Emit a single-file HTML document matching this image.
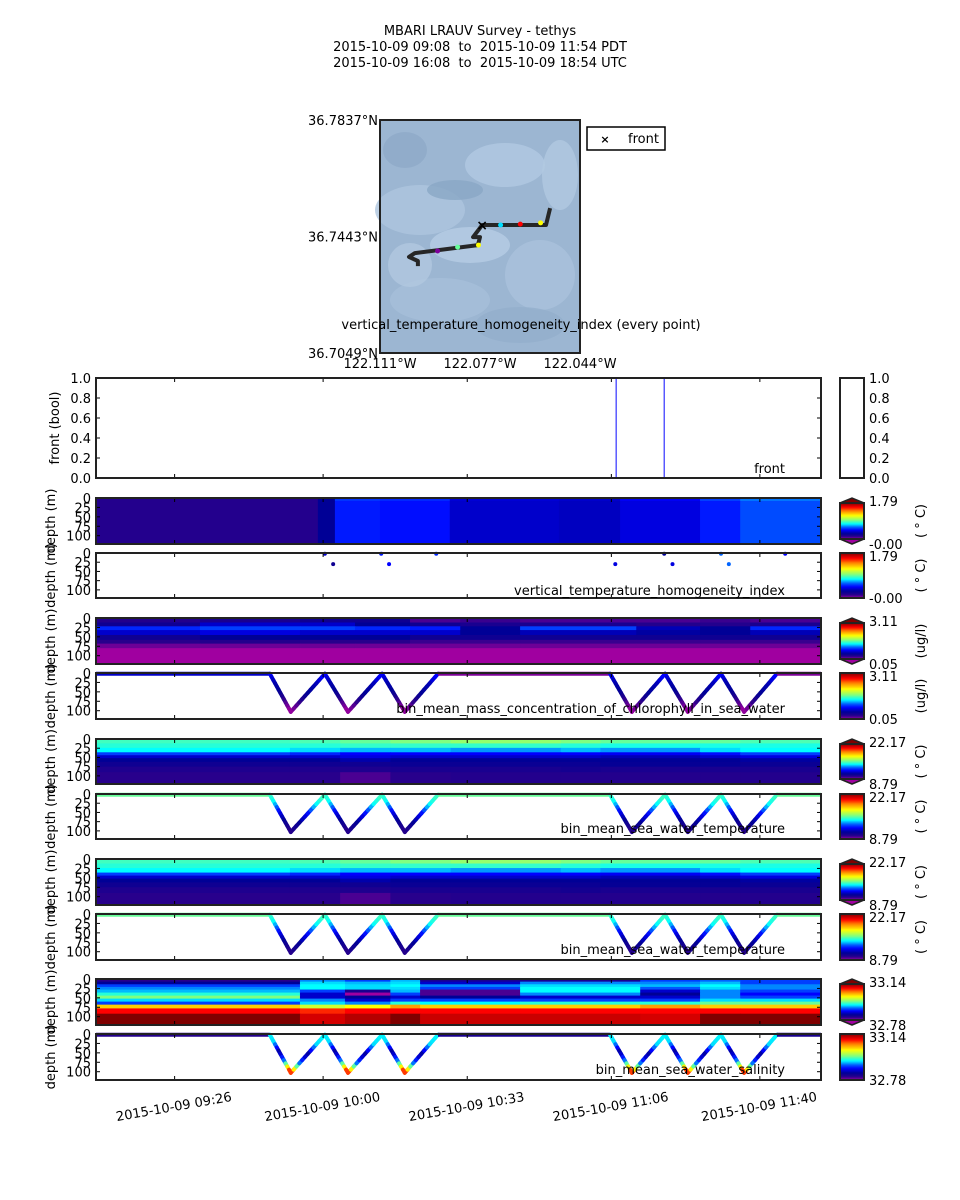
<!DOCTYPE html>
<html><head><meta charset="utf-8"><style>
body{margin:0;background:#fff}
svg{display:block;font-family:"DejaVu Sans","Liberation Sans",sans-serif}
text{white-space:pre}
</style></head><body>
<svg id="fig" width="960" height="1200" viewBox="0 0 960 1200" xmlns="http://www.w3.org/2000/svg">
<rect width="960" height="1200" fill="#fff"/>
<g font-size="13" text-anchor="middle" fill="#000">
<text x="480" y="35" xml:space="preserve">MBARI LRAUV Survey - tethys</text>
<text x="480" y="51" xml:space="preserve">2015-10-09 09:08  to  2015-10-09 11:54 PDT</text>
<text x="480" y="67" xml:space="preserve">2015-10-09 16:08  to  2015-10-09 18:54 UTC</text>
</g>
<g id="map"></g>
<g id="plots"></g>
</svg>
<script>
// ---------- data ----------
const mapLon=[-122.054,-122.0554,-122.0768,-122.0775,-122.0798,-122.0775,-122.0782,-122.0993,-122.1013,-122.0983,-122.0983];
const mapLat=[36.7539,36.7482,36.7482,36.7472,36.7441,36.7441,36.7414,36.7387,36.7374,36.7360,36.7343];
const dotLon=[-122.0706,-122.0640,-122.0572,-122.0780,-122.0850,-122.0917];
const dotLat=[36.7482,36.7485,36.7489,36.7414,36.7407,36.7394];
const dotFrac=[0.4,0.88,0.65,0.65,0.5,0.02];
const frontLon=[-122.0768], frontLat=[36.7482];
const latTicks=["36.7837°N","36.7443°N","36.7049°N"], latVals=[36.7837,36.7443,36.7049];
const lonTicks=["122.111°W","122.077°W","122.044°W"], lonVals=[-122.111,-122.0775,-122.044];

const timeTicks=[18,52,85,118,152];
const timeLabels=["2015-10-09 09:26","2015-10-09 10:00","2015-10-09 10:33","2015-10-09 11:06","2015-10-09 11:40"];
const frontTimes=[119.1,130.1];
const depthTicks=[0,25,50,75,100];

// vthi heatmap
const vthiTimeEdges=[0,50.8,54.7,65,81,106,120,138.3,147.5,166];
const vthiDepthEdges=[0,8,122];
const vthiFrac=[[0.08,0.15,0.29,0.28,0.21,0.2,0.24,0.3,0.34],[0.08,0.15,0.27,0.26,0.2,0.19,0.22,0.27,0.31]];
// vthi points
const vthiPtTime=[52.4,54.3,65.3,67.1,77.9,118.9,130.1,132,143.1,144.9,157.8];
const vthiPtDepth=[2,30,2,30,2,30,2,30,2,30,2];
const vthiPtFrac=[0.2,0.12,0.27,0.25,0.28,0.22,0.15,0.22,0.33,0.33,0.25];

// chl heatmap
const chlTimeEdges=[0,23.8,46.7,59.3,71.9,83.4,97.1,123.7,138.3,149.8,166];
const chlDepthEdges=[0,12,22,32,45,58,68,80,122];
const chlFrac=[
[0.08,0.1,0.12,0.12,0.05,0.06,0.05,0.05,0.06,0.05],
[0.12,0.2,0.2,0.15,0.12,0.1,0.1,0.08,0.08,0.1],
[0.28,0.3,0.3,0.28,0.27,0.15,0.3,0.18,0.15,0.28],
[0.2,0.22,0.2,0.2,0.2,0.15,0.18,0.16,0.15,0.18],
[0.12,0.15,0.15,0.15,0.12,0.12,0.12,0.12,0.12,0.12],
[0.07,0.08,0.07,0.07,0.06,0.06,0.06,0.06,0.06,0.06],
[0.03,0.03,0.03,0.03,0.03,0.03,0.03,0.03,0.03,0.03],
[0,0,0,0,0,0,0,0,0,0]];

// temperature heatmap
const tempTimeEdges=[0,44.4,55.9,67.4,81.2,106.4,115.5,138.3,147.5,166];
const tempDepthEdges=[0,12,24,36,44,52,62,75,90,122];
const tempFrac=[
[0.47,0.48,0.5,0.52,0.54,0.52,0.5,0.5,0.48],
[0.45,0.45,0.46,0.46,0.46,0.45,0.44,0.44,0.44],
[0.42,0.4,0.38,0.38,0.36,0.38,0.36,0.4,0.42],
[0.3,0.28,0.25,0.25,0.25,0.25,0.24,0.26,0.3],
[0.2,0.2,0.22,0.2,0.2,0.2,0.18,0.2,0.22],
[0.15,0.15,0.17,0.15,0.15,0.15,0.15,0.15,0.16],
[0.12,0.12,0.12,0.13,0.13,0.13,0.14,0.14,0.13],
[0.09,0.09,0.09,0.1,0.1,0.11,0.1,0.1,0.1],
[0.07,0.07,0.05,0.07,0.08,0.08,0.08,0.08,0.08]];

// salinity heatmap
const salTimeEdges=[0,46.7,57,67.4,74.2,97.1,124.6,138.3,147.5,166];
const salDepthEdges=[0,7,14,21,28,36,44,52,60,68,78,92,122];
const salFrac=[
[0.07,0.35,0.3,0.38,0.1,0.1,0.3,0.33,0.3],
[0.15,0.4,0.38,0.4,0.2,0.35,0.35,0.38,0.3],
[0.3,0.42,0.4,0.42,0.35,0.4,0.38,0.42,0.35],
[0.35,0.42,0.4,0.4,0.3,0.42,0.32,0.4,0.35],
[0.38,0.3,0.1,0.38,0.05,0.42,0.2,0.35,0.3],
[0.45,0.2,0.0,0.3,0.05,0.35,0.15,0.35,0.25],
[0.52,0.2,0.15,0.2,0.15,0.2,0.2,0.35,0.3],
[0.4,0.35,0.2,0.3,0.3,0.3,0.3,0.4,0.4],
[0.3,0.4,0.35,0.45,0.42,0.45,0.45,0.5,0.5],
[0.7,0.6,0.65,0.75,0.7,0.7,0.75,0.7,0.7],
[0.88,0.85,0.88,0.88,0.88,0.88,0.88,0.88,0.88],
[1,0.92,0.95,1,0.93,0.93,0.92,1,1]];

// vehicle track (yo-yo profiles)
const trackTime=[0,39.8,44.6,52.4,57.7,65.5,70.7,78.3,117.7,122.7,130.3,135.5,143.1,148.4,155.9,166];
const trackDepth=[2,2,103,2,103,2,103,2,2,103,2,103,2,103,2,2];
const profDepths=[0,25,50,75,103];
const chlProfFrac=[0.27,0.18,0.15,0.06,0.0];
const chlSurfFrac=[0.2,0.02,0.02];
const tempProfFrac=[0.48,0.42,0.25,0.14,0.07];
const tempSurfFrac=[0.5,0.5,0.5];
const salProfFrac=[0.42,0.4,0.15,0.35,0.92];
const salSurfFrac=[0.08,0.1,0.1];

// ---------- helpers ----------
const NS="http://www.w3.org/2000/svg";
function mk(tag,attrs,parent){const e=document.createElementNS(NS,tag);for(const k in attrs)e.setAttribute(k,attrs[k]);parent.appendChild(e);return e;}
const stops=[[0,[160,0,160]],[0.07,[40,0,140]],[0.15,[0,0,150]],[0.25,[0,0,255]],[0.33,[0,100,255]],[0.42,[0,255,255]],[0.52,[128,255,128]],[0.65,[255,255,0]],[0.78,[255,128,0]],[0.88,[255,0,0]],[1,[128,0,0]]];
function cmap(f){f=Math.max(0,Math.min(1,f));for(let i=1;i<stops.length;i++){if(f<=stops[i][0]){const a=stops[i-1],b=stops[i];const t=(f-a[0])/(b[0]-a[0]);const c=a[1].map((v,j)=>Math.round(v+(b[1][j]-v)*t));return `rgb(${c[0]},${c[1]},${c[2]})`;}}return 'rgb(128,0,0)';}
const X0=96,X1=821;
const xS=t=>X0+t/166*(X1-X0);
const DMAX=122;
const plots=document.getElementById('plots');
const mapG=document.getElementById('map');

// ---------- map ----------
const MX0=380,MX1=580,MY0=120,MY1=353;
const mx=lon=>MX0+(lon-(-122.111))/(0.067)*(MX1-MX0);
const my=lat=>MY0+(36.7837-lat)/(0.0788)*(MY1-MY0);
mk('rect',{x:MX0,y:MY0,width:200,height:233,fill:'#9cb6d2'},mapG);
const blobs=[[420,210,45,25,'#aec6df'],[505,165,40,22,'#b2c9e2'],[540,275,35,35,'#aac2dc'],[440,300,50,22,'#a6bfda'],[470,245,40,18,'#b6cde5'],[405,150,22,18,'#8eaac8'],[455,190,28,10,'#8aa7c5'],[560,175,18,35,'#b2c9e1'],[520,325,45,18,'#93afcc'],[410,265,22,22,'#b2c8e0']];
blobs.forEach(b=>{const e=mk('ellipse',{cx:b[0],cy:b[1],rx:b[2],ry:b[3],fill:b[4],opacity:0.8},mapG);});
mk('rect',{x:MX0,y:MY0,width:200,height:233,fill:'none',stroke:'#222',"stroke-width":2},mapG);
const tp=mapLon.map((l,i)=>mx(l).toFixed(1)+','+my(mapLat[i]).toFixed(1)).join(' ');
const trk=mk('polyline',{points:tp,fill:'none',stroke:'#262626',"stroke-width":4,"stroke-linejoin":"round"},mapG);


dotLon.forEach((l,i)=>{const d=mk('circle',{cx:mx(l),cy:my(dotLat[i]),r:2.5,fill:cmap(dotFrac[i])},mapG);});
frontLon.forEach((l,i)=>{const t=mk('text',{x:mx(l),y:my(frontLat[i])+5,"text-anchor":"middle","font-size":14,"font-weight":"bold"},mapG);t.textContent='×';});
latVals.forEach((v,i)=>{const t=mk('text',{x:378,y:my(v)+5,"text-anchor":"end","font-size":13},mapG);t.textContent=latTicks[i];});
lonVals.forEach((v,i)=>{const t=mk('text',{x:mx(v),y:368,"text-anchor":"middle","font-size":13},mapG);t.textContent=lonTicks[i];});
{const t=mk('text',{x:521,y:329,"text-anchor":"middle","font-size":13},mapG);t.textContent='vertical_temperature_homogeneity_index (every point)';}
{const lg=mk('g',{},mapG);
mk('rect',{x:587,y:127,width:78,height:23,fill:'#fff',stroke:'#000',"stroke-width":1.5},lg);
const a=mk('text',{x:605,y:143,"text-anchor":"middle","font-size":11,"font-weight":"bold"},lg);a.textContent='×';
const b=mk('text',{x:628,y:143,"font-size":13},lg);b.textContent='front';}

// ---------- panel utilities ----------
function depthAxis(g,top,bot){
  const yS=d=>top+d/DMAX*(bot-top);
  depthTicks.forEach(d=>{
    const y=yS(d);
    mk('line',{x1:X0,x2:X0+4,y1:y,y2:y,stroke:'#000'},g);
    mk('line',{x1:X1-4,x2:X1,y1:y,y2:y,stroke:'#000'},g);
    const t=mk('text',{x:91,y:y+5,"text-anchor":"end","font-size":13},g);t.textContent=d;
    
    
  });
  timeTicks.forEach(tt=>{const x=xS(tt);mk('line',{x1:x,x2:x,y1:bot,y2:bot-4,stroke:'#000'},g);mk('line',{x1:x,x2:x,y1:top,y2:top+4,stroke:'#000'},g);});
  const yl=mk('text',{x:0,y:0,transform:`translate(55,${(top+bot)/2}) rotate(-90)`,"text-anchor":"middle","font-size":13},g);yl.textContent='depth (m)';
  
  
  return yS;
}
function frame(g,top,bot){mk('rect',{x:X0,y:top,width:X1-X0,height:bot-top,fill:'none',stroke:'#222',"stroke-width":2},g);}
function colorbar(top,bot,ext,maxL,minL,unit){
  const g=mk('g',{},plots);
  
  
  const x=840,w=24,n=40;
  const t0=ext?top+5:top, b0=ext?bot-5:bot;
  for(let i=0;i<n;i++){const y=t0+(b0-t0)*i/n;mk('rect',{x:x,y:y,width:w,height:(b0-t0)/n+0.6,fill:cmap(1-(i+0.5)/n)},g);}
  if(ext){
    mk('polygon',{points:`${x},${t0} ${x+w/2},${top} ${x+w},${t0}`,fill:cmap(1),stroke:'#222',"stroke-width":1.5},g);
    mk('polygon',{points:`${x},${b0} ${x+w/2},${bot} ${x+w},${b0}`,fill:cmap(0),stroke:'#222',"stroke-width":1.5},g);
  }
  mk('rect',{x:x,y:t0,width:w,height:b0-t0,fill:'none',stroke:'#222',"stroke-width":2},g);
  const a=mk('text',{x:869,y:top+8,"font-size":13},g);a.textContent=maxL;
  const b=mk('text',{x:869,y:bot+5,"font-size":13},g);b.textContent=minL;
  const u=mk('text',{x:0,y:0,transform:`translate(925,${(top+bot)/2}) rotate(-90)`,"text-anchor":"middle","font-size":13},g);u.textContent=unit;
}
function heatmap(name,top,bot,tE,dE,frac){
  const g=mk('g',{},plots);
  
  
  const yS=d=>top+Math.min(d,DMAX)/DMAX*(bot-top);
  frac.forEach((row,r)=>row.forEach((f,c)=>{
    const x1=xS(tE[c]),x2=xS(tE[c+1]),y1=yS(dE[r]),y2=yS(dE[r+1]);
    const e=mk('rect',{x:x1,y:y1,width:x2-x1+0.5,height:y2-y1+0.5,fill:cmap(f)},g);
    
    
  }));
  depthAxis(g,top,bot);frame(g,top,bot);
}
function interpDepth(d,vals){
  for(let i=1;i<profDepths.length;i++){if(d<=profDepths[i]){const t=(d-profDepths[i-1])/(profDepths[i]-profDepths[i-1]);return vals[i-1]+(vals[i]-vals[i-1])*t;}}
  return vals[vals.length-1];
}
function profile(name,top,bot,vals,surf,label){
  const g=mk('g',{},plots);
  
  
  const yS=d=>top+d/DMAX*(bot-top);
  let surfIdx=0;
  for(let i=0;i<trackTime.length-1;i++){
    const t0=trackTime[i],t1=trackTime[i+1],d0=trackDepth[i],d1=trackDepth[i+1];
    if(d0===d1){
      const s=mk('line',{x1:xS(t0),x2:xS(t1),y1:yS(d0),y2:yS(d1),stroke:cmap(surf[Math.min(surfIdx,2)]),"stroke-width":4},g);
      
      
      surfIdx++;continue;
    }
    const N=12;
    for(let k=0;k<N;k++){
      const a=k/N,b=(k+1)/N;
      const dm=d0+(d1-d0)*(a+b)/2;
      const s=mk('line',{x1:xS(t0+(t1-t0)*a),x2:xS(t0+(t1-t0)*b),y1:yS(d0+(d1-d0)*a),y2:yS(d0+(d1-d0)*b),stroke:cmap(interpDepth(dm,vals)),"stroke-width":4,"stroke-linecap":"round"},g);
      
      
    }
  }
  depthAxis(g,top,bot);frame(g,top,bot);
  const t=mk('text',{x:785,y:bot-6,"text-anchor":"end","font-size":13},g);t.textContent=label;
  
  
}

// ---------- front panel ----------
{
  const g=mk('g',{},plots);
  
  
  const top=378,bot=478;
  const yS=v=>bot-v*(bot-top);
  [0,0.2,0.4,0.6,0.8,1.0].forEach(v=>{
    const y=yS(v);
    mk('line',{x1:X0,x2:X0+4,y1:y,y2:y,stroke:'#000'},g);mk('line',{x1:X1-4,x2:X1,y1:y,y2:y,stroke:'#000'},g);
    const t=mk('text',{x:91,y:y+5,"text-anchor":"end","font-size":13},g);t.textContent=v.toFixed(1);
    const c=mk('text',{x:869,y:y+5,"font-size":13},g);c.textContent=v.toFixed(1);
    mk('line',{x1:860,x2:864,y1:y,y2:y,stroke:'#000'},g);
  });
  timeTicks.forEach(tt=>{const x=xS(tt);mk('line',{x1:x,x2:x,y1:bot,y2:bot-4,stroke:'#000'},g);mk('line',{x1:x,x2:x,y1:top,y2:top+4,stroke:'#000'},g);});
  frontTimes.forEach(ft=>{const l=mk('line',{x1:xS(ft),x2:xS(ft),y1:yS(0),y2:yS(1),stroke:'#3030ff',"stroke-width":1.2},g);});
  mk('line',{x1:X0,x2:X1,y1:yS(0),y2:yS(0),stroke:'#3030ff',"stroke-width":1.2},g);
  frame(g,top,bot);
  const yl=mk('text',{x:0,y:0,transform:`translate(59,${(top+bot)/2}) rotate(-90)`,"text-anchor":"middle","font-size":13},g);yl.textContent='front (bool)';
  
  
  const lb=mk('text',{x:785,y:473,"text-anchor":"end","font-size":13},g);lb.textContent='front';
  mk('rect',{x:840,y:top,width:24,height:bot-top,fill:'#fff',stroke:'#222',"stroke-width":2},g);
}

// ---------- vthi ----------
heatmap('vthi-heatmap',498,544,vthiTimeEdges,vthiDepthEdges,vthiFrac);
colorbar(498,544,true,'1.79','-0.00','( ° C)');
{
  const g=mk('g',{},plots);
  
  
  const top=553,bot=598;const yS=d=>top+d/DMAX*(bot-top);
  vthiPtTime.forEach((t,i)=>{const c=mk('circle',{cx:xS(t),cy:yS(vthiPtDepth[i]),r:2,fill:cmap(vthiPtFrac[i])},g);});
  depthAxis(g,top,bot);frame(g,top,bot);
  const t=mk('text',{x:785,y:bot-3,"text-anchor":"end","font-size":13},g);t.textContent='vertical_temperature_homogeneity_index';
}
colorbar(553,598,false,'1.79','-0.00','( ° C)');

// ---------- chl ----------
heatmap('chlorophyll-heatmap',618,664,chlTimeEdges,chlDepthEdges,chlFrac);
colorbar(618,664,true,'3.11','0.05','(ug/l)');
profile('chlorophyll-profile',673,719,chlProfFrac,chlSurfFrac,'bin_mean_mass_concentration_of_chlorophyll_in_sea_water');
colorbar(673,719,false,'3.11','0.05','(ug/l)');

// ---------- temperature ----------
heatmap('temperature-heatmap',739,784,tempTimeEdges,tempDepthEdges,tempFrac);
colorbar(739,784,true,'22.17','8.79','( ° C)');
profile('temperature-profile',794,839,tempProfFrac,tempSurfFrac,'bin_mean_sea_water_temperature');
colorbar(794,839,false,'22.17','8.79','( ° C)');
heatmap('temperature-heatmap-2',859,905,tempTimeEdges,tempDepthEdges,tempFrac);
colorbar(859,905,true,'22.17','8.79','( ° C)');
profile('temperature-profile-2',914,960,tempProfFrac,tempSurfFrac,'bin_mean_sea_water_temperature');
colorbar(914,960,false,'22.17','8.79','( ° C)');

// ---------- salinity ----------
heatmap('salinity-heatmap',979,1025,salTimeEdges,salDepthEdges,salFrac);
colorbar(979,1025,true,'33.14','32.78','');
profile('salinity-profile',1034,1080,salProfFrac,salSurfFrac,'bin_mean_sea_water_salinity');
colorbar(1034,1080,false,'33.14','32.78','');

// ---------- time axis labels ----------
timeTicks.forEach((tt,i)=>{
  const x=xS(tt);
  const t=mk('text',{x:0,y:0,transform:`translate(${x},${1111}) rotate(-10)`,"text-anchor":"middle","font-size":13},plots);
  t.textContent=timeLabels[i];
  
  
});
</script>
</body></html>
